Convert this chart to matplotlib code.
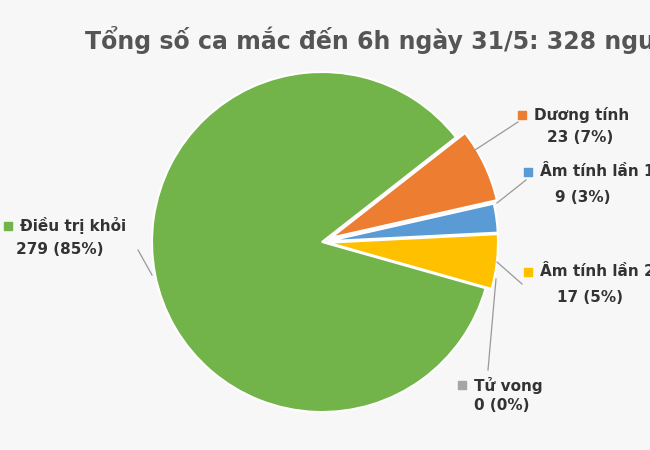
import matplotlib.pyplot as plt

categories = ['Dương tính', 'Âm tính lần 1', 'Âm tính lần 2', 'Tử vong', 'Điều trị khỏi']
values = [23, 9, 17, 0, 279]
percents = ['7%', '3%', '5%', '0%', '85%']
colors = ['#ED7D31', '#5B9BD5', '#FFC000', '#A5A5A5', '#72B34A']
title = 'Tổng số ca mắc đến 6h ngày 31/5: 328 người'

W, H = 650, 450
fig = plt.figure(figsize=(6.5, 4.5), dpi=100)
fig.patch.set_facecolor('#f7f7f7')
ax = fig.add_axes([0, 0, 1, 1])

# explode is in data units here (pixels), not a fraction of the radius
ax.pie(values, colors=colors, startangle=38, counterclock=False,
       center=(322, H - 242), radius=170, explode=[10, 6, 6, 0, 0],
       wedgeprops=dict(edgecolor='white', linewidth=1.5), frame=True)
ax.set_xlim(0, W)
ax.set_ylim(0, H)
ax.set_aspect('equal')
ax.axis('off')

def Y(y):
    return H - y

# label layout: (square x, y), (value line x, y), leader line
layout = [
    ((522, 115), (580, 137), [(475, 150), (518, 122)]),
    ((528, 172), (583, 197), [(497, 203), (526, 180)]),
    ((528, 272), (590, 297), [(497, 262), (522, 284)]),
    ((462, 385), (502, 406), [(496, 279), (488, 370)]),
    ((8, 226), (60, 250), [(152, 275), (138, 250)]),
]

for (cat, v, p, c, ((sx, sy), (vx, vy), line)) in zip(categories, values, percents, colors, layout):
    ax.plot(*zip(*[(x, Y(y)) for x, y in line]), color='#999999', lw=0.9)
    ax.scatter([sx], [Y(sy)], marker='s', s=40, color=c)
    ax.text(sx + 12, Y(sy), cat, fontsize=11, fontweight='bold', color='#333333',
            ha='left', va='center')
    ax.text(vx, Y(vy), f'{v} ({p})', fontsize=11, fontweight='bold', color='#333333',
            ha='center', va='center')

ax.text(85, Y(40), title, fontsize=17, fontweight='bold', color='#555555',
        ha='left', va='center')

fig.savefig('out.png', dpi=100, facecolor=fig.get_facecolor())
